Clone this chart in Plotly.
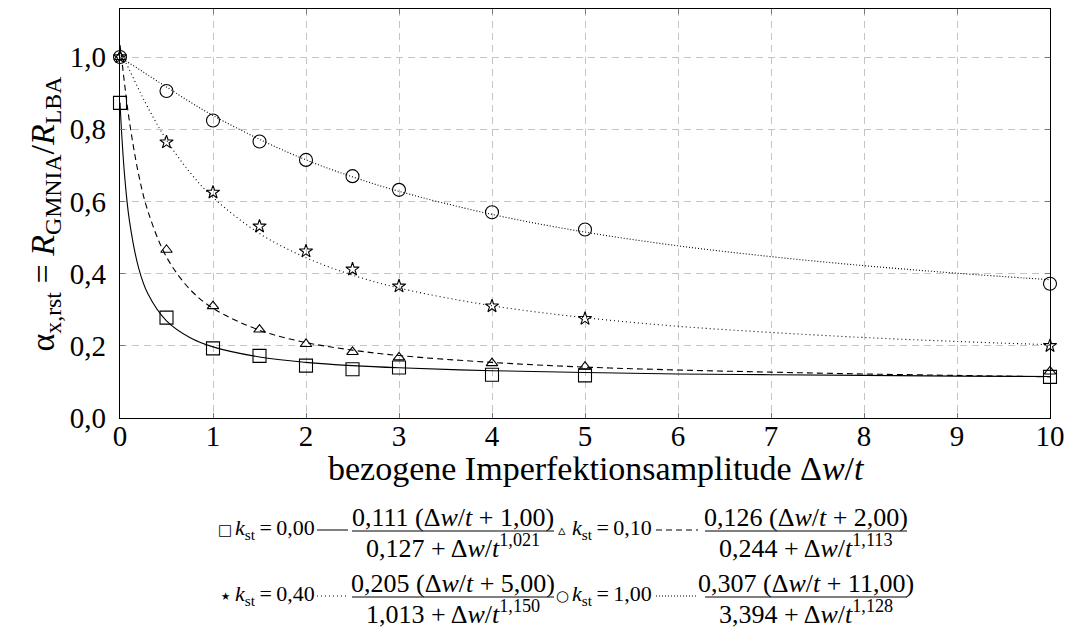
import plotly.graph_objects as go

# GMNIA-Ergebnisse über der bezogenen Imperfektionsamplitude
dw_t = [0, 0.5, 1, 1.5, 2, 2.5, 3, 4, 5, 10]
alpha_k000 = [0.873, 0.278, 0.193, 0.172, 0.145, 0.135, 0.14, 0.12, 0.118, 0.114]
alpha_k010 = [1.0, 0.466, 0.31, 0.245, 0.205, 0.183, 0.168, 0.152, 0.142, 0.129]
alpha_k040 = [1.0, 0.764, 0.625, 0.531, 0.462, 0.412, 0.365, 0.31, 0.275, 0.2]
alpha_k100 = [1.0, 0.906, 0.824, 0.766, 0.715, 0.67, 0.632, 0.57, 0.522, 0.372]

# Ausgleichskurven
fit_x = [0, 0.01, 0.02, 0.05, 0.1, 0.2, 0.3, 0.5, 0.75, 1, 1.5, 2, 2.5, 3, 4, 5, 6, 7, 8, 9, 10]
fit_k000 = [0.874, 0.824, 0.779, 0.670, 0.549, 0.416, 0.344, 0.269, 0.223, 0.197, 0.169, 0.154,
            0.145, 0.139, 0.131, 0.126, 0.122, 0.120, 0.118, 0.116, 0.115]
fit_k010 = [1.033, 1.013, 0.991, 0.924, 0.824, 0.675, 0.573, 0.446, 0.357, 0.304, 0.243, 0.209,
            0.188, 0.173, 0.154, 0.141, 0.133, 0.127, 0.122, 0.118, 0.114]
fit_k040 = [1.012, 1.009, 1.005, 0.991, 0.965, 0.911, 0.860, 0.770, 0.681, 0.611, 0.511, 0.444,
            0.396, 0.360, 0.311, 0.278, 0.254, 0.237, 0.223, 0.212, 0.203]
fit_k100 = [0.995, 0.994, 0.993, 0.990, 0.983, 0.967, 0.950, 0.917, 0.876, 0.838, 0.772, 0.715,
            0.668, 0.628, 0.564, 0.515, 0.477, 0.447, 0.422, 0.401, 0.383]

# Legende: k_st und Parameter a (Δw/t + b) / (c + Δw/t^d)
k_st = ["0,00", "0,10", "0,40", "1,00"]
fit_a = ["0,111", "0,126", "0,205", "0,307"]
fit_b = ["1,00", "2,00", "5,00", "11,00"]
fit_c = ["0,127", "0,244", "1,013", "3,394"]
fit_d = ["1,021", "1,113", "1,150", "1,128"]

x_ticks = [0, 1, 2, 3, 4, 5, 6, 7, 8, 9, 10]
y_ticks = [0, 0.2, 0.4, 0.6, 0.8, 1.0]
y_ticktext = ["0,0", "0,2", "0,4", "0,6", "0,8", "1,0"]

FONT = "Liberation Serif"
L, R, T, B = 112, 50, 1, 229
W, H = 1092, 639
PW, PH = W - L - R, H - T - B


def px(x):
    return (x - L) / PW


def py(y):
    return (H - B - y) / PH


fig = go.Figure()

fits = [fit_k000, fit_k010, fit_k040, fit_k100]
dashes = ["solid", "6px,4px", "1px,3px", "1px,2px"]
for f, d in zip(fits, dashes):
    fig.add_trace(go.Scatter(x=fit_x, y=f, mode="lines", line=dict(color="black", width=1.1, dash=d),
                             line_shape="spline", hoverinfo="skip", cliponaxis=True))

points = [alpha_k000, alpha_k010, alpha_k040, alpha_k100]
symbols = ["square-open", "triangle-up-open", "star-open", "circle-open"]
sizes = [13, 10, 10, 13]
for p, s, sz in zip(points, symbols, sizes):
    fig.add_trace(go.Scatter(x=dw_t, y=p, mode="markers", cliponaxis=False,
                             marker=dict(symbol=s, size=sz, color="black", line=dict(width=1.1, color="black"))))

axis_style = dict(showgrid=True, gridcolor="#c4c4c4", griddash="7px,5px", gridwidth=1,
                  showline=True, linecolor="black", linewidth=1.3, mirror="ticks",
                  ticks="inside", ticklen=5, tickcolor="#777777", zeroline=False,
                  tickfont=dict(family=FONT, size=29, color="black"))
fig.update_xaxes(range=[0, 10], tickvals=x_ticks, ticklabelstandoff=-8, **axis_style)
fig.update_yaxes(range=[0, 1.133], tickvals=y_ticks, ticktext=y_ticktext, ticklabelstandoff=7,
                 **axis_style)

ann = []
ann.append(dict(text="bezogene Imperfektionsamplitude Δ<i>w</i>/<i>t</i>", x=px(588), y=py(460),
                font=dict(size=34)))
ann.append(dict(text="α<sub>x,rst</sub> = <i>R</i><sub>GMNIA</sub>/<i>R</i><sub>LBA</sub>",
                x=px(36), y=0.5, textangle=-90, font=dict(size=34)))

# Legende unterhalb der Achse, 2 x 2 Einträge
glyphs = ["□", "▵", "⋆", "○"]
glyph_sizes = [15, 15, 21, 15]
cols = [dict(mark=217, lab=225, l0=309, l1=340, f0=344, f1=546),
        dict(mark=554, lab=562, l0=648, l1=690, f0=697, f1=899)]
rows = [523, 589]
shapes = []
for i in range(4):
    c = cols[i % 2]
    yb = rows[i // 2]
    ann.append(dict(text=glyphs[i], x=px(c["mark"]), y=py(yb - 1),
                    font=dict(size=glyph_sizes[i], family="DejaVu Sans")))
    ann.append(dict(text="<i>k</i><sub>st</sub>\u2009=\u2009" + k_st[i], x=px(c["lab"]), y=py(yb - 2),
                    xanchor="left", font=dict(size=22)))
    shapes.append(dict(type="line", xref="paper", yref="paper", x0=px(c["l0"]), x1=px(c["l1"]),
                       y0=py(yb - 1), y1=py(yb - 1), line=dict(color="black", width=1, dash=dashes[i])))
    xm = (c["f0"] + c["f1"]) / 2
    ann.append(dict(text=fit_a[i] + " (Δ<i>w</i>/<i>t</i> + " + fit_b[i] + ")", x=px(xm), y=py(yb - 14),
                    font=dict(size=26)))
    ann.append(dict(text=fit_c[i] + " + Δ<i>w</i>/<i>t</i><sup>" + fit_d[i] + "</sup>", x=px(xm),
                    y=py(yb + 15), font=dict(size=26)))
    shapes.append(dict(type="line", xref="paper", yref="paper", x0=px(c["f0"]), x1=px(c["f1"]),
                       y0=py(yb), y1=py(yb), line=dict(color="black", width=1)))

for a in ann:
    a.update(xref="paper", yref="paper", showarrow=False)
    a.setdefault("xanchor", "center")
    a.setdefault("yanchor", "middle")
    a["font"].setdefault("family", FONT)
    a["font"].setdefault("color", "black")

fig.update_layout(width=W, height=H, margin=dict(l=L, r=R, t=T, b=B), showlegend=False,
                  paper_bgcolor="white", plot_bgcolor="white", annotations=ann, shapes=shapes,
                  font=dict(family=FONT, color="black"))

fig.write_html("out.html")
